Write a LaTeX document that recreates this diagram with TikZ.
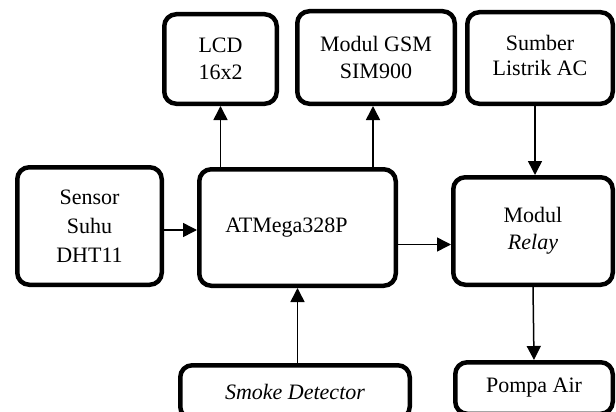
\documentclass[tikz,border=0pt]{standalone}
\usepackage{fontspec}
\setmainfont{Liberation Serif}
\usetikzlibrary{arrows.meta}
\begin{document}
\begin{tikzpicture}[x=1pt,y=-1pt,
  box/.style={draw, line width=4.5pt, rounded corners=12pt, inner sep=0pt, align=center, font=\fontsize{22}{27}\selectfont},
  arr/.style={line width=1.5pt, -{Triangle[length=14pt,width=14pt]}}]
\useasboundingbox (0,0) rectangle (616,412);
\clip (0,0) rectangle (616,412);
\node[box, minimum width=112.5pt, minimum height=89.5pt] (lcd) at (220.5,59) {LCD\\16x2};
\node[box, minimum width=157.5pt, minimum height=92.5pt] (gsm) at (376,57.5) {Modul GSM\\SIM900};
\node[box, minimum width=145.5pt, minimum height=91.5pt] (src) at (540,58) {\raisebox{5pt}{\begin{tabular}{@{}c@{}}Sumber\\[-2pt]Listrik AC\end{tabular}}};
\node[box, minimum width=144.5pt, minimum height=117.5pt, font=\fontsize{22}{29}\selectfont] (sensor) at (89.5,226) {Sensor\\Suhu\\DHT11};
\node[box, minimum width=196.5pt, minimum height=116.5pt] (atm) at (297.5,227.5) {ATMega328P\hspace*{22pt}};
\node[box, minimum width=159.5pt, minimum height=107.5pt] (relay) at (533,231) {Modul\\\textit{Relay}};
\node[box, minimum width=229.5pt, minimum height=53.5pt] (smoke) at (295,392) {\textit{Smoke Detector}};
\node[box, minimum width=157.5pt, minimum height=51.5pt] (pompa) at (534,388) {Pompa Air};
\draw[arr] ([yshift=-4pt]sensor.east) -- ([yshift=-4pt]sensor.east -| atm.west);
\draw[arr] (lcd.south |- atm.north) -- (lcd.south);
\draw[arr] ([xshift=-3pt]gsm.south |- atm.north) -- ([xshift=-3pt]gsm.south);
\draw[arr] ([xshift=2pt]relay.north |- src.south) -- ([xshift=2pt]relay.north);
\draw[arr] ([yshift=-17pt]atm.east) -- ([yshift=-17pt]atm.east -| relay.west);
\draw[arr] (smoke.north -| atm.south) -- (atm.south);
\draw[arr] (relay.south) -- (pompa.north);
\end{tikzpicture}
\end{document}
